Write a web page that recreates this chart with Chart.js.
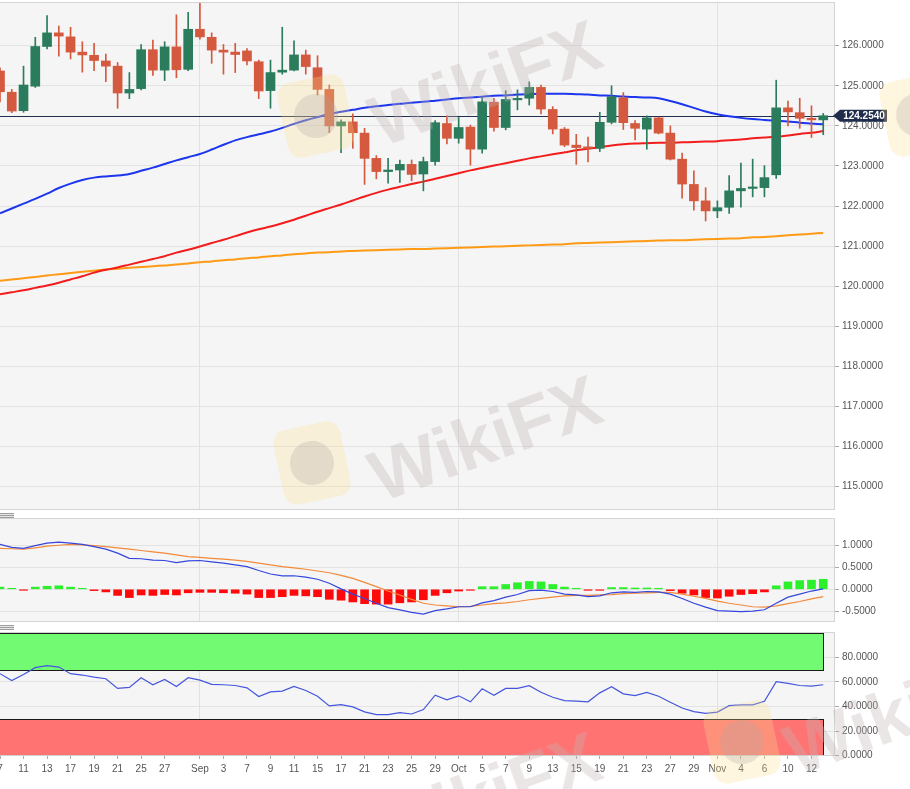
<!DOCTYPE html>
<html>
<head>
<meta charset="utf-8">
<script src="https://cdn.jsdelivr.net/npm/chart.js@4.4.1/dist/chart.umd.min.js"></script>
<style>
html, body { margin: 0; padding: 0; background: #fff; }
#wrap { position: relative; width: 910px; height: 789px; overflow: hidden; }
canvas { position: absolute; left: 0; }
.grip { position: absolute; left: 0; width: 14px; height: 5px;
  background: repeating-linear-gradient(#9c9c9c 0 1px, #e6e6e6 1px 2px); }
.wm { position: absolute; font: bold 72px "Liberation Sans", Arial, sans-serif;
  color: rgba(195,180,180,0.33); white-space: nowrap; pointer-events: none;
  transform: translate(-50%, -50%) rotate(-20deg); }
.logo { position: absolute; width: 68px; height: 76px; border-radius: 14px;
  background: rgba(250,222,140,0.28); pointer-events: none;
  transform: translate(-50%, -50%) rotate(-12deg); }
.logo::after { content: ""; position: absolute; left: 12px; top: 16px; width: 44px; height: 44px;
  border-radius: 50%; background: rgba(175,165,160,0.28); }
</style>
</head>
<body>
<div id="wrap">
  <canvas id="main" width="910" height="512" style="top:0"></canvas>
  <canvas id="macd" width="910" height="108" style="top:516px"></canvas>
  <canvas id="rsi" width="910" height="159" style="top:630px"></canvas>
  <div class="grip" style="top:513px"></div>
  <div class="grip" style="top:625px"></div>
  <div class="logo" style="left:316px;top:116px"></div>
  <div class="logo" style="left:312px;top:463px"></div>
  <div class="logo" style="left:742px;top:742px"></div>
  <div class="logo" style="left:918px;top:115px"></div>
  <div class="wm" style="left:485px;top:83px">WikiFX</div>
  <div class="wm" style="left:485px;top:438px">WikiFX</div>
  <div class="wm" style="left:485px;top:795px">WikiFX</div>
  <div class="wm" style="left:900px;top:712px">WikiFX</div>
</div>
<script>
// EUR/JPY daily, Aug 7 - Nov 13 2020
const dates = ['Aug 7','Aug 10','Aug 11','Aug 12','Aug 13','Aug 14','Aug 17','Aug 18','Aug 19','Aug 20','Aug 21','Aug 24','Aug 25','Aug 26','Aug 27','Aug 28','Aug 31',
  'Sep 1','Sep 2','Sep 3','Sep 4','Sep 7','Sep 8','Sep 9','Sep 10','Sep 11','Sep 14','Sep 15','Sep 16','Sep 17','Sep 18','Sep 21','Sep 22','Sep 23','Sep 24','Sep 25','Sep 28','Sep 29','Sep 30',
  'Oct 1','Oct 2','Oct 5','Oct 6','Oct 7','Oct 8','Oct 9','Oct 12','Oct 13','Oct 14','Oct 15','Oct 16','Oct 19','Oct 20','Oct 21','Oct 22','Oct 23','Oct 26','Oct 27','Oct 28','Oct 29','Oct 30',
  'Nov 2','Nov 3','Nov 4','Nov 5','Nov 6','Nov 9','Nov 10','Nov 11','Nov 12','Nov 13'];

const open = [125.37,124.84,124.38,124.99,125.98,126.32,126.22,125.84,125.76,125.62,
  125.49,124.82,124.93,125.9,125.39,125.97,125.41,126.41,126.21,125.89,
  125.84,125.87,125.6,124.88,125.34,125.39,125.77,125.45,124.91,124.0,
  124.1,123.82,123.19,122.86,122.9,123.04,122.8,123.11,124.06,123.69,
  123.97,123.42,124.59,123.96,124.65,124.69,124.96,124.41,123.92,123.52,
  123.46,123.44,124.09,124.7,124.06,123.92,124.2,123.82,123.17,122.54,
  122.13,121.88,121.97,122.38,122.44,122.46,122.78,124.45,124.33,124.19,124.15];
const high = [125.45,124.91,125.49,126.21,126.75,126.49,126.46,126.1,126.06,125.79,
  125.58,125.33,126.03,126.14,126.1,126.77,126.83,127.06,126.32,126.03,
  126.06,125.93,125.64,125.64,126.46,126.12,125.89,125.75,125.02,124.15,
  124.3,123.94,123.26,123.19,123.15,123.15,123.22,124.13,124.25,124.21,
  124.02,124.71,124.69,124.88,124.9,125.1,125.02,124.48,123.96,123.79,
  123.72,124.34,125.0,124.83,124.13,124.25,124.22,124.0,123.32,122.88,
  122.46,122.13,122.76,123.07,123.17,123.01,125.14,124.62,124.69,124.5,124.31];
const low = [124.6,124.33,124.34,124.96,125.92,125.74,125.67,125.34,125.38,125.1,
  124.44,124.68,124.9,125.26,125.13,125.2,125.38,126.16,125.56,125.29,
  125.33,125.52,124.68,124.44,125.29,125.37,125.29,124.77,123.83,123.33,
  123.44,122.54,122.68,122.57,122.59,122.63,122.38,123.02,123.55,123.57,
  123.02,123.32,123.87,123.9,124.4,124.52,124.3,123.8,123.48,123.04,
  123.1,123.36,124.05,123.91,123.65,123.42,123.8,123.15,122.2,121.9,
  121.63,121.71,121.82,121.97,122.23,122.23,122.69,124.0,123.94,123.71,123.78];
const close = [124.85,124.37,125.02,125.98,126.32,126.24,125.84,125.77,125.63,125.49,
  124.82,124.91,125.9,125.39,125.97,125.4,126.41,126.22,125.89,125.84,
  125.78,125.62,124.87,125.33,125.39,125.77,125.48,124.91,124.0,124.1,
  123.83,123.19,122.86,122.9,123.04,122.79,123.11,124.08,123.69,123.96,
  123.42,124.6,123.96,124.66,124.67,124.96,124.42,123.92,123.52,123.46,
  123.44,124.09,124.73,124.08,123.94,124.2,123.82,123.17,122.55,122.13,
  121.88,121.96,122.38,122.44,122.47,122.71,124.45,124.35,124.19,124.15,124.254];

const sma50 = [121.82,121.94,122.06,122.18,122.31,122.45,122.56,122.65,122.71,122.74,
  122.76,122.8,122.88,122.96,123.05,123.14,123.22,123.3,123.41,123.53,
  123.64,123.72,123.79,123.86,123.95,124.05,124.14,124.22,124.3,124.35,
  124.4,124.45,124.49,124.52,124.55,124.58,124.6,124.63,124.66,124.69,
  124.71,124.73,124.75,124.76,124.78,124.79,124.8,124.8,124.8,124.79,
  124.78,124.76,124.75,124.73,124.72,124.71,124.69,124.62,124.54,124.45,
  124.36,124.29,124.24,124.2,124.17,124.15,124.13,124.11,124.08,124.06,124.04];
const sma100 = [119.8,119.85,119.9,119.96,120.02,120.09,120.17,120.25,120.34,120.41,
  120.47,120.54,120.61,120.68,120.75,120.84,120.91,120.99,121.08,121.16,
  121.25,121.34,121.42,121.49,121.57,121.66,121.76,121.86,121.95,122.04,
  122.14,122.24,122.33,122.41,122.48,122.55,122.61,122.68,122.75,122.82,
  122.89,122.95,123.01,123.07,123.13,123.19,123.24,123.29,123.34,123.39,
  123.43,123.47,123.51,123.54,123.56,123.57,123.58,123.58,123.59,123.6,
  123.61,123.62,123.64,123.66,123.69,123.71,123.73,123.76,123.8,123.83,123.87];
const sma200 = [120.14,120.17,120.2,120.23,120.27,120.3,120.33,120.36,120.39,120.42,
  120.44,120.46,120.48,120.5,120.52,120.54,120.57,120.6,120.62,120.65,
  120.67,120.7,120.72,120.75,120.77,120.8,120.82,120.84,120.85,120.87,
  120.88,120.89,120.9,120.91,120.92,120.93,120.93,120.94,120.95,120.96,
  120.97,120.98,120.99,121.0,121.01,121.02,121.03,121.04,121.05,121.07,
  121.08,121.09,121.1,121.11,121.12,121.13,121.14,121.15,121.15,121.16,
  121.17,121.18,121.19,121.2,121.22,121.23,121.25,121.27,121.29,121.31,121.33];

const macd = [1.03,0.96,0.94,1.0,1.06,1.08,1.06,1.03,0.98,0.92,
  0.83,0.71,0.70,0.67,0.66,0.61,0.65,0.66,0.63,0.6,
  0.56,0.52,0.43,0.35,0.31,0.31,0.28,0.23,0.14,0.01,
  -0.11,-0.21,-0.32,-0.42,-0.47,-0.53,-0.57,-0.49,-0.45,-0.40,
  -0.40,-0.31,-0.26,-0.18,-0.12,-0.03,-0.02,-0.05,-0.11,-0.13,
  -0.17,-0.15,-0.08,-0.06,-0.07,-0.05,-0.06,-0.11,-0.21,-0.32,
  -0.41,-0.49,-0.5,-0.51,-0.5,-0.47,-0.32,-0.18,-0.11,-0.04,0.01];
const signal = [0.94,0.93,0.92,0.95,0.99,1.01,1.03,1.02,1.0,0.98,
  0.95,0.92,0.89,0.86,0.83,0.79,0.75,0.73,0.71,0.69,
  0.67,0.64,0.6,0.56,0.52,0.49,0.46,0.42,0.38,0.32,
  0.25,0.16,0.06,-0.04,-0.13,-0.23,-0.32,-0.36,-0.38,-0.40,
  -0.39,-0.36,-0.33,-0.31,-0.28,-0.24,-0.21,-0.18,-0.15,-0.14,
  -0.14,-0.13,-0.12,-0.10,-0.09,-0.08,-0.07,-0.07,-0.11,-0.16,
  -0.21,-0.27,-0.32,-0.36,-0.40,-0.41,-0.38,-0.33,-0.28,-0.22,-0.17];
const hist = [0.05,0.01,-0.01,0.05,0.07,0.08,0.05,0.01,-0.03,-0.06,
  -0.14,-0.19,-0.13,-0.14,-0.12,-0.13,-0.08,-0.07,-0.07,-0.08,
  -0.09,-0.11,-0.19,-0.19,-0.17,-0.14,-0.15,-0.17,-0.23,-0.25,
  -0.29,-0.33,-0.34,-0.34,-0.31,-0.29,-0.24,-0.14,-0.08,-0.04,
  -0.02,0.06,0.06,0.11,0.15,0.18,0.17,0.11,0.05,0.01,
  -0.02,-0.01,0.04,0.04,0.03,0.03,0.02,-0.03,-0.09,-0.13,
  -0.19,-0.20,-0.16,-0.12,-0.10,-0.06,0.08,0.17,0.20,0.21,0.23];

const rsi = [66.7,61.2,66.1,71.6,73.3,72.1,66.7,65.6,63.9,62.6,
  54.7,55.5,63.4,57.7,62.0,56.3,63.4,61.5,58.0,57.7,
  57.1,55.2,48.1,51.9,52.5,56.3,53.0,48.4,40.5,41.6,
  39.7,35.6,33.4,33.4,35.0,33.9,37.5,49.2,45.4,48.7,
  43.8,54.4,49.2,54.7,54.7,56.9,51.6,47.5,44.8,44.3,
  43.8,51.1,56.1,50.3,48.9,51.4,48.4,43.4,38.8,35.8,
  34.4,35.5,40.7,41.3,41.3,44.3,60.2,58.8,57.1,56.6,57.7];
const overbought = 70, oversold = 30;

const tickIdx = [0,2,4,6,8,10,12,14,17,19,21,23,25,27,29,31,33,35,37,39,41,43,45,47,49,51,53,55,57,59,61,63,65,67,69];
const tickLabels = ['7','11','13','17','19','21','25','27','Sep','3','7','9','11','15','17','21','23','25','29',
  'Oct','5','7','9','13','15','19','21','23','27','29','Nov','4','6','10','12'];
const monthIdx = [17, 39, 61];
const priceTicks = [115,116,117,118,119,120,121,122,123,124,125,126];
const macdTicks = [-0.5, 0, 0.5, 1];
const rsiTicks = [0, 20, 40, 60, 80];

const xLabels = dates.concat(['']);
const lastPrice = close[close.length - 1];
const candleColors = close.map((c, i) => c >= open[i] ? '#2b7b5d' : '#d4593f');

Chart.defaults.font.family = '"Liberation Sans", Arial, sans-serif';
Chart.defaults.font.size = 10;

function xAxis(h, labelsOn) {
  return {
    type: 'category',
    offset: false,
    grid: {
      offset: false,
      drawTicks: labelsOn,
      tickLength: 3,
      color: c => monthIdx.includes(c.index) ? '#e1e1e1' : 'rgba(0,0,0,0)',
      tickColor: c => tickIdx.includes(c.index) ? '#aaaaaa' : 'rgba(0,0,0,0)'
    },
    border: { display: false },
    ticks: {
      display: labelsOn, autoSkip: false, maxRotation: 0, minRotation: 0, padding: 4,
      color: '#555',
      callback: (v, i) => { const k = tickIdx.indexOf(i); return k < 0 ? '' : tickLabels[k]; }
    },
    afterFit: s => { s.height = h; s.paddingLeft = 0; s.paddingRight = 0; }
  };
}

function yAxis(min, max, list) {
  return {
    type: 'linear', position: 'right', min: min, max: max,
    afterBuildTicks: s => { s.ticks = list.map(v => ({ value: v })); },
    afterFit: s => { s.width = 75; s.paddingTop = 0; s.paddingBottom = 0; },
    grid: { color: '#e3e3e3', tickColor: '#aaaaaa', tickLength: 4 },
    border: { display: false },
    ticks: { color: '#555', padding: 3, callback: v => v.toFixed(4) }
  };
}

// light panel background with a thin frame
const panel = {
  id: 'panel',
  beforeDraw(chart) {
    const { ctx, chartArea: a } = chart;
    ctx.save();
    ctx.fillStyle = '#f5f5f5';
    ctx.fillRect(a.left, a.top, a.right - a.left, a.bottom - a.top);
    ctx.restore();
  },
  afterDraw(chart) {
    const { ctx, chartArea: a } = chart;
    ctx.save();
    ctx.strokeStyle = '#d4d4d4';
    ctx.lineWidth = 1;
    ctx.beginPath();
    ctx.moveTo(a.left, a.top + 0.5);
    ctx.lineTo(a.right - 0.5, a.top + 0.5);
    ctx.lineTo(a.right - 0.5, a.bottom - 0.5);
    ctx.lineTo(a.left, a.bottom - 0.5);
    ctx.stroke();
    ctx.restore();
  }
};

// last price line and the tag on the price axis
const priceTag = {
  id: 'priceTag',
  beforeDatasetsDraw(chart) {
    const { ctx, chartArea: a, scales: { y } } = chart;
    const yp = Math.round(y.getPixelForValue(lastPrice)) + 0.5;
    ctx.save();
    ctx.strokeStyle = '#1f2f50';
    ctx.lineWidth = 1;
    ctx.beginPath();
    ctx.moveTo(a.left, yp);
    ctx.lineTo(a.right, yp);
    ctx.stroke();
    ctx.restore();
  },
  afterDraw(chart) {
    const { ctx, chartArea: a, scales: { y } } = chart;
    const yp = y.getPixelForValue(lastPrice);
    const x0 = a.right - 2;
    ctx.save();
    ctx.fillStyle = '#1f2d4c';
    ctx.beginPath();
    ctx.moveTo(x0, yp);
    ctx.lineTo(x0 + 7, yp - 6);
    ctx.lineTo(887, yp - 6);
    ctx.lineTo(887, yp + 6);
    ctx.lineTo(x0 + 7, yp + 6);
    ctx.closePath();
    ctx.fill();
    ctx.fillStyle = '#fff';
    ctx.font = 'bold 10px "Liberation Sans", Arial, sans-serif';
    ctx.textAlign = 'center';
    ctx.textBaseline = 'middle';
    ctx.fillText(lastPrice.toFixed(4), 864, yp + 0.5);
    ctx.restore();
  }
};

// overbought / oversold zones of the RSI pane
const bands = {
  id: 'bands',
  beforeDatasetsDraw(chart) {
    const { ctx, chartArea: a, scales: { x, y } } = chart;
    const xr = Math.round(x.getPixelForValue(rsi.length - 1)) + 0.5;
    ctx.save();
    ctx.beginPath();
    ctx.rect(a.left, a.top, a.right - a.left, a.bottom - a.top);
    ctx.clip();
    [[overbought, 100, '#72fb72'], [0, oversold, '#ff7373']].forEach(([lo, hi, col]) => {
      const y1 = Math.round(y.getPixelForValue(hi)) + 0.5;
      const y0 = Math.round(y.getPixelForValue(lo)) + 0.5;
      ctx.fillStyle = col;
      ctx.fillRect(a.left, y1, xr - a.left, y0 - y1);
      ctx.strokeStyle = '#1a1a1a';
      ctx.lineWidth = 1;
      ctx.strokeRect(a.left - 2, y1, xr - a.left + 2, y0 - y1);
    });
    ctx.restore();
  }
};

const common = {
  responsive: false, animation: false, events: [],
  plugins: { legend: { display: false }, tooltip: { enabled: false } }
};

new Chart(document.getElementById('main'), {
  type: 'bar',
  data: {
    labels: xLabels,
    datasets: [
      { type: 'line', label: 'SMA 200', data: sma200, borderColor: '#ff9a14', borderWidth: 2, pointRadius: 0, cubicInterpolationMode: 'monotone', order: 5 },
      { type: 'line', label: 'SMA 100', data: sma100, borderColor: '#f21c1c', borderWidth: 2, pointRadius: 0, cubicInterpolationMode: 'monotone', order: 4 },
      { type: 'line', label: 'SMA 50', data: sma50, borderColor: '#1c35ee', borderWidth: 2, pointRadius: 0, cubicInterpolationMode: 'monotone', order: 3 },
      { label: 'wick', data: low.map((l, i) => [l, high[i]]), backgroundColor: candleColors, barThickness: 1, grouped: false, order: 2 },
      { label: 'body', data: open.map((o, i) => [o, close[i]]), backgroundColor: candleColors, barThickness: 9, grouped: false, minBarLength: 1.5, order: 1 }
    ]
  },
  options: Object.assign({}, common, {
    layout: { padding: { top: 2, left: 0, right: 0, bottom: 0 } },
    scales: { x: xAxis(2, false), y: yAxis(114.42, 127.09, priceTicks) }
  }),
  plugins: [panel, priceTag]
});

new Chart(document.getElementById('macd'), {
  type: 'bar',
  data: {
    labels: xLabels,
    datasets: [
      { type: 'line', label: 'MACD', data: macd, borderColor: '#3446dc', borderWidth: 1.2, pointRadius: 0, tension: 0, order: 1 },
      { type: 'line', label: 'Signal', data: signal, borderColor: '#f28a3c', borderWidth: 1.2, pointRadius: 0, tension: 0, order: 1 },
      { label: 'Histogram', data: hist, backgroundColor: hist.map(v => v >= 0 ? '#2cf02c' : '#ff0a0a'), barThickness: 8, grouped: false, minBarLength: 1, order: 2 }
    ]
  },
  options: Object.assign({}, common, {
    layout: { padding: { top: 2, left: 0, right: 0, bottom: 0 } },
    scales: { x: xAxis(2, false), y: yAxis(-0.75, 1.635, macdTicks) }
  }),
  plugins: [panel]
});

new Chart(document.getElementById('rsi'), {
  type: 'line',
  data: {
    labels: xLabels,
    datasets: [
      { label: 'RSI', data: rsi, borderColor: '#4456dd', borderWidth: 1.2, pointRadius: 0, tension: 0 }
    ]
  },
  options: Object.assign({}, common, {
    layout: { padding: { top: 2, left: 0, right: 0, bottom: 0 } },
    scales: { x: xAxis(33, true), y: yAxis(-0.25, 100.6, rsiTicks) }
  }),
  plugins: [panel, bands]
});
</script>
</body>
</html>
